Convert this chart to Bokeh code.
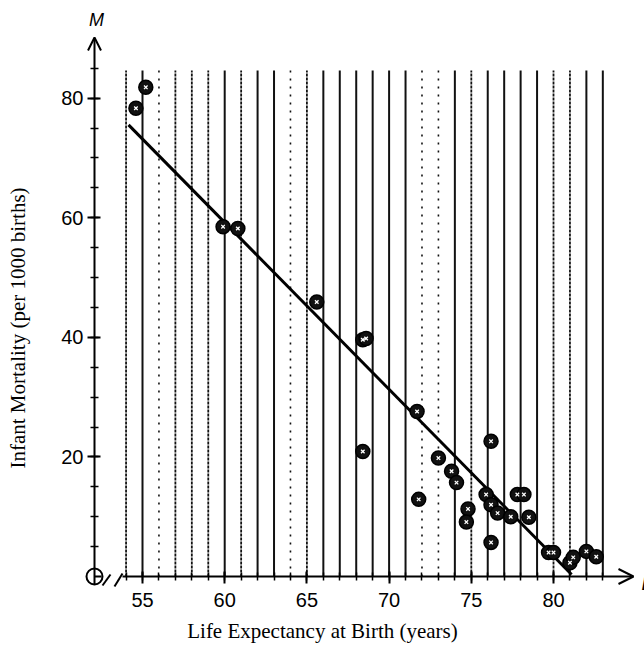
from bokeh.plotting import figure
from bokeh.models import FixedTicker, Arrow, OpenHead
from bokeh.core.properties import value
from bokeh.embed import file_html
from bokeh.resources import INLINE

# ---------------- data ----------------
life_expectancy = [54.6, 55.2, 59.9, 60.8, 65.6, 68.4, 68.6, 68.4, 71.7, 71.8,
                   73.0, 73.8, 74.1, 74.8, 74.7, 76.2, 75.9, 76.2, 76.6, 77.4,
                   76.2, 77.8, 78.2, 78.5, 79.7, 80.0, 81.0, 81.2, 82.0, 82.6]
infant_mortality = [78.3, 81.8, 58.5, 58.2, 45.9, 39.6, 39.8, 20.9, 27.6, 12.9,
                    19.8, 17.6, 15.7, 11.3, 9.1, 22.6, 13.7, 12.0, 10.6, 10.0,
                    5.7, 13.7, 13.7, 9.9, 4.0, 4.0, 2.3, 3.2, 4.2, 3.3]
reg_intercept = 226.6
reg_slope = -2.79
reg_domain = [54.15, 81.1]
grid_years = list(range(54, 84))
x_major_ticks = [55, 60, 65, 70, 75, 80]
x_minor_ticks = list(range(54, 84))
y_major_ticks = [20, 40, 60, 80]
y_minor_ticks = list(range(5, 90, 5))
x_title = "Life Expectancy at Birth (years)"
y_title = "Infant Mortality (per 1000 births)"

# ---------------- geometry (pixels) ----------------
W, H = 644, 655
PXX = 16.44          # px per year
PXY = 5.98           # px per mortality unit
ORIG_X_FIG = 94      # y-axis position in figure px
ORIG_Y_FIG = 576     # x-axis position in figure px
X0 = 52.08           # L value at the y-axis
x_start = X0 - ORIG_X_FIG / PXX
x_end = X0 + (W - ORIG_X_FIG) / PXX
y_end = ORIG_Y_FIG / PXY
y_start = -(H - ORIG_Y_FIG) / PXY

p = figure(width=W, height=H, x_range=(x_start, x_end), y_range=(y_start, y_end),
           output_backend="svg", toolbar_location=None, min_border=0,
           background_fill_color="white", border_fill_color="white")
p.outline_line_color = None
p.xgrid.visible = False
p.ygrid.visible = False

tick_font = "Liberation Sans"
lab_font = "Liberation Serif"

# x axis (drawn at M = 0)
xa = p.xaxis[0]
xa.fixed_location = 0
xa.ticker = FixedTicker(ticks=x_major_ticks, minor_ticks=x_minor_ticks)
xa.axis_line_color = None
xa.major_tick_in = 5
xa.major_tick_out = 7
xa.minor_tick_in = 4
xa.minor_tick_out = 4
xa.major_tick_line_width = 2
xa.minor_tick_line_width = 1.5
xa.major_tick_line_color = "black"
xa.minor_tick_line_color = "black"
xa.major_label_text_font = tick_font
xa.major_label_text_font_size = "20px"
xa.major_label_text_color = "black"
xa.major_label_standoff = 9
xa.axis_label = x_title
xa.axis_label_text_font = lab_font
xa.axis_label_text_font_style = "normal"
xa.axis_label_text_font_size = "21px"
xa.axis_label_text_color = "black"
xa.axis_label_standoff = 9

# y axis (drawn at L = X0)
ya = p.yaxis[0]
ya.fixed_location = X0
ya.ticker = FixedTicker(ticks=y_major_ticks, minor_ticks=y_minor_ticks)
ya.axis_line_color = None
ya.major_tick_in = 6
ya.major_tick_out = 7
ya.minor_tick_in = 4
ya.minor_tick_out = 4
ya.major_tick_line_width = 2
ya.minor_tick_line_width = 1.5
ya.major_tick_line_color = "black"
ya.minor_tick_line_color = "black"
ya.major_label_text_font = tick_font
ya.major_label_text_font_size = "20px"
ya.major_label_text_color = "black"
ya.major_label_standoff = 4
ya.axis_label = y_title
ya.axis_label_text_font = lab_font
ya.axis_label_text_font_style = "normal"
ya.axis_label_text_font_size = "21px"
ya.axis_label_text_color = "black"
ya.axis_label_standoff = 28

# vertical grid lines (scanned look: solid / dotted / sparse)
grid_top = (ORIG_Y_FIG - 70) / PXY
style_of = {54: "dense", 56: "sparse", 57: "dense", 58: "dense", 59: "dense",
            61: "dense", 64: "sparse", 65: "dense", 72: "sparse", 73: "sparse",
            75: "dense", 80: "dense", 81: "dense"}
dash_map = {"solid": "solid", "dense": "3 1", "sparse": "2 6"}
width_map = {"solid": 2.0, "dense": 1.8, "sparse": 1.6}
for kind in ["solid", "dense", "sparse"]:
    xs = [yr for yr in grid_years if style_of.get(yr, "solid") == kind]
    if not xs:
        continue
    p.segment(x0=xs, y0=[0] * len(xs), x1=xs, y1=[grid_top] * len(xs),
              line_color="#111111", line_width=width_map[kind], line_dash=dash_map[kind])

# axes lines with arrows
head_y = OpenHead(size=13, line_width=2, line_color="black")
p.add_layout(Arrow(end=head_y, x_start=X0, y_start=-1.3, x_end=X0,
                   y_end=(ORIG_Y_FIG - 37) / PXY, line_width=2, line_color="black"))
head_x = OpenHead(size=15, line_width=2, line_color="black")
p.add_layout(Arrow(end=head_x, x_start=X0 + 28 / PXX, y_start=0,
                   x_end=X0 + 539 / PXX, y_end=0, line_width=2, line_color="black"))

# origin symbol and axis break
p.scatter([X0], [0], marker="circle", size=16, fill_color=None,
          line_color="black", line_width=2)
p.segment(x0=[X0], y0=[0], x1=[X0 + 7 / PXX], y1=[0], line_color="black", line_width=2)
p.segment(x0=[X0 + 8 / PXX, X0 + 20 / PXX], y0=[-9 / PXY, -10 / PXY],
          x1=[X0 + 16 / PXX, X0 + 28 / PXX], y1=[2 / PXY, 3 / PXY],
          line_color="black", line_width=2)

# regression line
p.line(x=reg_domain, y=[reg_intercept + reg_slope * v for v in reg_domain],
       line_color="black", line_width=3)

# data points
p.scatter(life_expectancy, infant_mortality, marker="circle", size=14,
          fill_color="#111111", line_color="black", line_width=1.5)
p.scatter(life_expectancy, infant_mortality, marker="x", size=5,
          line_color="white", line_width=1.3)

# axis variable letters
p.text(x=[X0 + 2 / PXX], y=[(ORIG_Y_FIG - 19) / PXY], text=["M"],
       text_font=value(tick_font), text_font_style="italic", text_font_size="18px",
       text_align="center", text_baseline="middle", text_color="black")
p.text(x=[X0 + 547 / PXX], y=[-17 / PXY], text=["L"],
       text_font=value(tick_font), text_font_style="italic", text_font_size="18px",
       text_align="left", text_baseline="bottom", text_color="black")

open("out.html", "w").write(file_html(p, INLINE))
